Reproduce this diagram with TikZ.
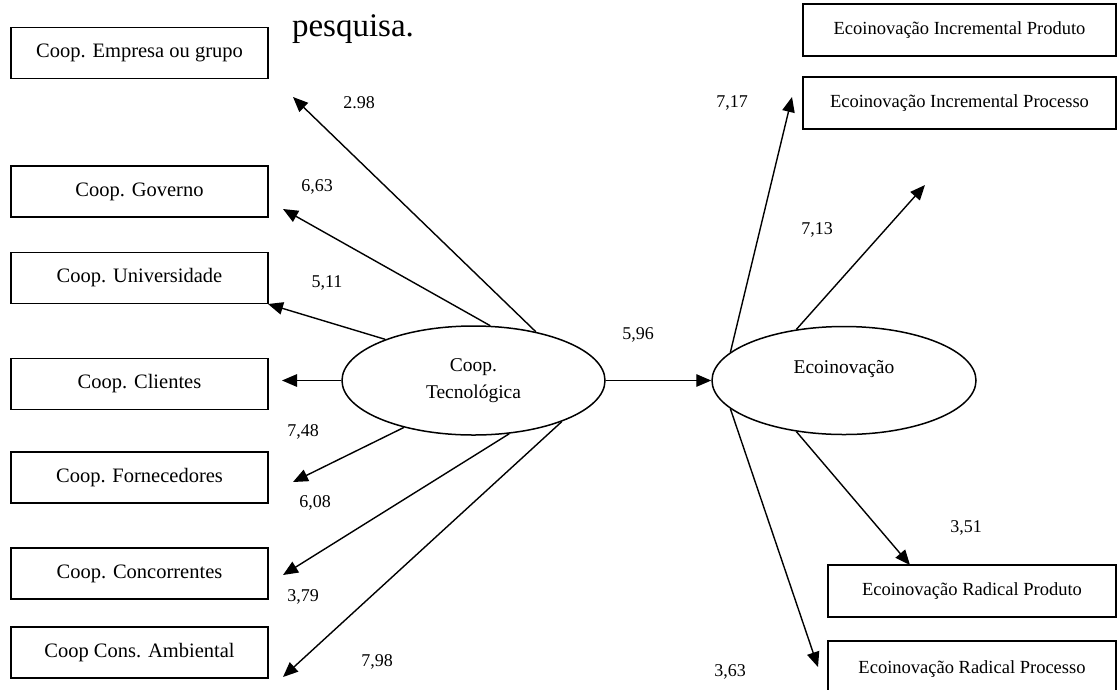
\documentclass[tikz,border=0pt]{standalone}
\usepackage{fontspec}
\setmainfont{Liberation Serif}
\usetikzlibrary{arrows.meta,shapes.geometric}
\begin{document}
\begin{tikzpicture}[x=1pt,y=-1pt,
  lbox/.style={draw,line width=1.5pt,minimum width=257pt,minimum height=51pt,
    inner sep=0pt,font=\fontsize{20.5}{24}\selectfont},
  rbox/.style={draw,line width=1.5pt,minimum height=52pt,inner sep=0pt,
    font=\fontsize{18.5}{22}\selectfont},
  latent/.style={draw,ellipse,line width=1.5pt,minimum width=263pt,
    minimum height=109pt,inner sep=0pt,align=center,
    font=\fontsize{19.5}{27}\selectfont},
  load/.style={font=\fontsize{18}{22}\selectfont,inner sep=0pt},
  conn/.style={line width=1.4pt,-{Triangle[length=15pt,width=12.5pt]}}
]
\useasboundingbox (0,0) rectangle (1118,689);

% trailing word of the running text above the model
\node[anchor=base,inner sep=0pt,font=\fontsize{33}{36}\selectfont] (txt) at (353,36) {pesquisa.};

% indicators of technological cooperation
\node[lbox] (emp) at (139.5,53)    {Coop. Empresa ou grupo};
\node[lbox] (gov) at (139.5,191.5) {Coop. Governo};
\node[lbox] (uni) at (139.5,278)   {Coop. Universidade};
\node[lbox] (cli) at (139.5,384)   {Coop. Clientes};
\node[lbox] (for) at (139.5,477.5) {Coop. Fornecedores};
\node[lbox] (con) at (139.5,573.5) {Coop. Concorrentes};
\node[lbox] (amb) at (139.5,652.5) {Coop Cons. Ambiental};

% indicators of eco-innovation
\node[rbox,minimum width=313pt] (ipd) at (959.5,30)  {Ecoinovação Incremental Produto};
\node[rbox,minimum width=313pt] (ipc) at (959.5,103) {Ecoinovação Incremental Processo};
\node[rbox,minimum width=288pt] (rpd) at (972,591)   {Ecoinovação Radical Produto};
\node[rbox,minimum width=288pt,minimum height=64pt,text depth=12pt] (rpc) at (972,673) {Ecoinovação Radical Processo};

% latent constructs
\node[latent] (ct)  at (473.5,380.5) {Coop.\\Tecnológica};
\node[latent,minimum width=264pt,minimum height=108pt] (eco) at (844,380.5) {Ecoinovação\\\mbox{}};

% arrow tips
\coordinate (t1)  at (293,97);
\coordinate (t2)  at (283,209);
\coordinate (t3)  at (268,304);
\coordinate (t4)  at (282,380.5);
\coordinate (t5)  at (293,482);
\coordinate (t6)  at (283,575);
\coordinate (t7)  at (283,677);
\coordinate (t9)  at (792,97);
\coordinate (t10) at (925,185);
\coordinate (t11) at (910,565);
\coordinate (t12) at (818,667);

% loadings of technological cooperation
\draw[conn] (ct.38.4)  -- (t1);
\draw[conn] (ct.73.3)  -- (t2);
\draw[conn] (ct.155.8) -- (t3);
\draw[conn] (ct.west)  -- (t4);
\draw[conn] (ct.214.4) -- (t5);
\draw[conn] (ct.-56.4) -- (t6);
\draw[conn] (ct.-25.2) -- (t7);

% structural path
\draw[conn] (ct.east) -- (eco.west);

% loadings of eco-innovation
\draw[conn] (eco.166.9) -- (t9);
\draw[conn] (eco.133.4) -- (t10);
\draw[conn] (eco.227.8) -- (t11);
\draw[conn] (eco.194.3) -- (t12);

% coefficient labels
\node[load] (l1)  at (359,103) {2.98};
\node[load] (l2)  at (317,187) {6,63};
\node[load] (l3)  at (327,283) {5,11};
\node[load] (l4)  at (303,432) {7,48};
\node[load] (l5)  at (315,503) {6,08};
\node[load] (l6)  at (303,597) {3,79};
\node[load] (l7)  at (377,662) {7,98};
\node[load] (l8)  at (638,335) {5,96};
\node[load] (l9)  at (732,103) {7,17};
\node[load] (l10) at (817,230) {7,13};
\node[load] (l11) at (966,528) {3,51};
\node[load] (l12) at (730,672) {3,63};
\end{tikzpicture}
\end{document}
